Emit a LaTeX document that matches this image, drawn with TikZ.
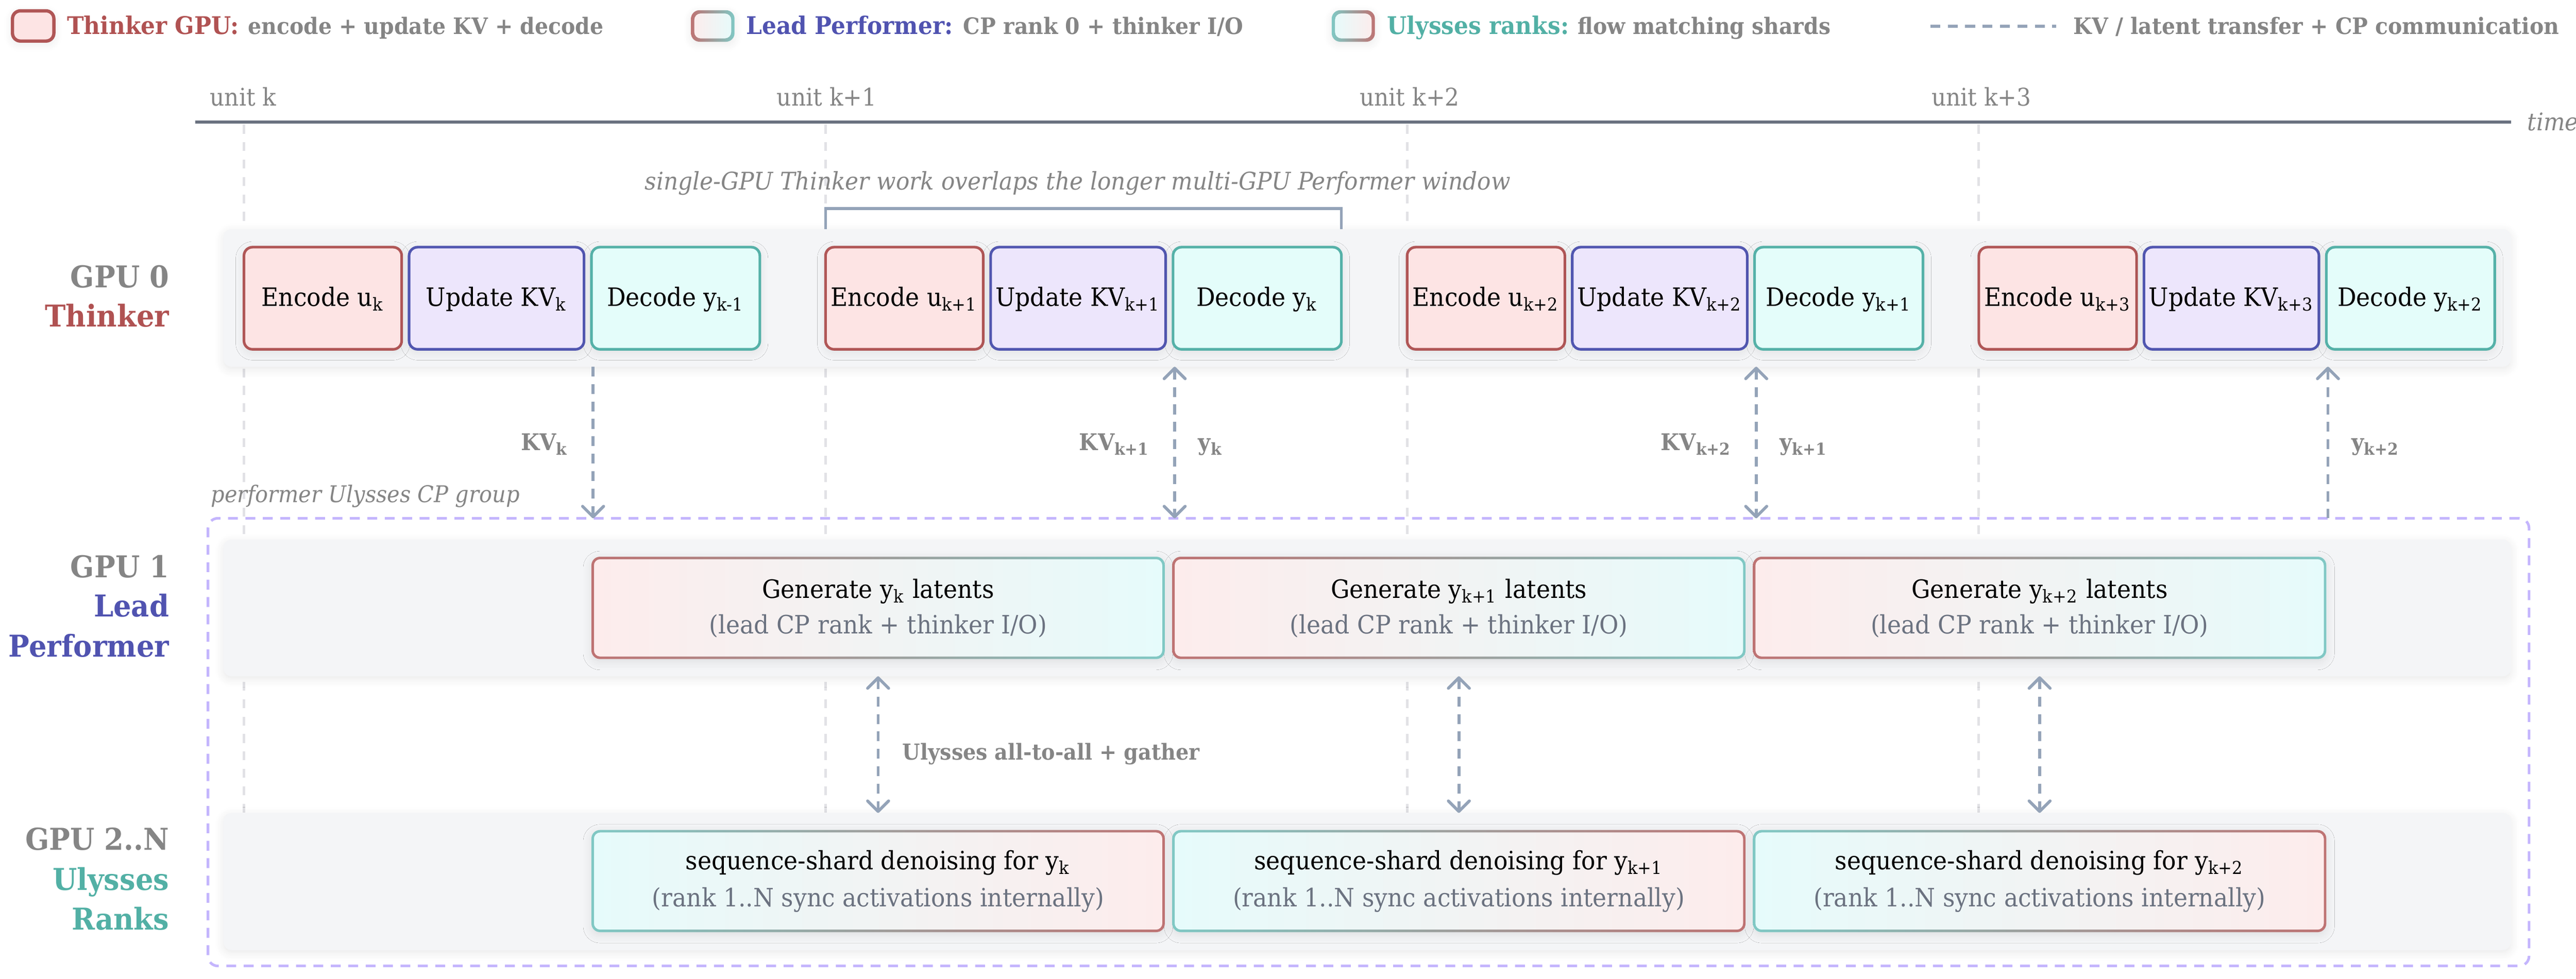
\documentclass[tikz,border=0pt]{standalone}
\usepackage{fontspec}
\setmainfont{DejaVu Serif}[FakeStretch=0.93]
\usetikzlibrary{arrows.meta,calc,shadows.blur}
\definecolor{redB}{HTML}{B05656}
\definecolor{redF}{HTML}{FDE4E4}
\definecolor{indB}{HTML}{5156B0}
\definecolor{indF}{HTML}{EDE6FC}
\definecolor{tealB}{HTML}{55B1A8}
\definecolor{tealF}{HTML}{E4FDFA}
\definecolor{gL}{HTML}{BE7373}
\definecolor{gM}{HTML}{7878C0}
\definecolor{gR}{HTML}{80C8C4}
\definecolor{pinkF}{HTML}{FDECEC}
\definecolor{lavF}{HTML}{EEE6FB}
\definecolor{cyanF}{HTML}{E6FBFB}
\definecolor{laneF}{HTML}{F4F5F7}
\definecolor{grayT}{HTML}{858585}
\definecolor{subC}{HTML}{6B7280}
\definecolor{axisC}{HTML}{6B7280}
\definecolor{commC}{HTML}{94A3B8}
\definecolor{gridC}{HTML}{E2E2E6}
\definecolor{grpC}{HTML}{C4B5FD}
\definecolor{thkC}{HTML}{B05252}
\definecolor{perC}{HTML}{5053B0}
\definecolor{ulyC}{HTML}{52B0A5}
\newcommand\mkbox[7]{%
  \pgfmathsetmacro\mkcx{(#2+#3)/2}%
  \pgfmathsetmacro\mkcy{(#4+#5)/2}%
  \pgfmathsetmacro\mkw{(#3-#2)*0.5}%
  \pgfmathsetmacro\mkh{(#5-#4)*0.5}%
  \node[#6, minimum width=\mkw pt, minimum height=\mkh pt] (#1) at (\mkcx,\mkcy) {#7};%
}
\newcommand\gring[5]{%
  \shade[left color=#2, middle color=#3, right color=#4, even odd rule, rounded corners=2.6pt]
    (#1.south west) rectangle (#1.north east)
    [rounded corners=1.9pt] ([shift={(#5,#5)}]#1.south west) rectangle ([shift={(-#5,-#5)}]#1.north east);%
}
\tikzset{
  cbarb/.tip={Straight Barb[length=3.2pt,width=6.4pt,round]},
  softsh/.style={blur shadow={shadow xshift=0pt, shadow yshift=-0.8pt, shadow blur radius=2.5pt, shadow blur steps=8, shadow opacity=9}},
  lane/.style={fill=laneF, draw=none, rounded corners=2.5pt, inner sep=0pt, outer sep=0pt, softsh},
  tb/.style={rounded corners=2.6pt, line width=0.8pt, inner sep=0pt, outer sep=0pt, softsh,
     font=\fontsize{7.7}{9}\selectfont, text height=6.2pt, text depth=1.3pt, text=black},
  enc/.style={tb, draw=redB, fill=redF},
  upd/.style={tb, draw=indB, fill=indF},
  dcd/.style={tb, draw=tealB, fill=tealF},
  gperf/.style={rounded corners=2.6pt, inner sep=0pt, outer sep=0pt, softsh, left color=pinkF, middle color=lavF, right color=cyanF},
  guly/.style={rounded corners=2.6pt, inner sep=0pt, outer sep=0pt, softsh, left color=cyanF, middle color=lavF, right color=pinkF},
  comm/.style={draw=commC, line width=0.9pt, dash pattern=on 3pt off 2.3pt},
  gridl/.style={draw=gridC, line width=0.8pt, dash pattern=on 2.7pt off 2.6pt},
  grp/.style={draw=grpC, line width=0.8pt, dash pattern=on 3pt off 2.3pt, rounded corners=3pt, inner sep=0pt, outer sep=0pt},
  bt1/.style={anchor=base, font=\fontsize{7.7}{9}\selectfont, text=black, inner sep=0pt},
  bt2/.style={anchor=base, font=\fontsize{7.7}{9}\selectfont, text=subC, inner sep=0pt},
  lanelab/.style={anchor=base east, font=\fontsize{9.15}{11}\selectfont\bfseries, inner sep=0pt},
  leglab/.style={anchor=base west, font=\fontsize{7.4}{9}\selectfont\bfseries, inner sep=0pt},
  legdesc/.style={anchor=base west, font=\fontsize{6.9}{9}\selectfont\bfseries, text=grayT, inner sep=0pt},
  unitlab/.style={anchor=base west, font=\fontsize{7.4}{9}\selectfont, text=grayT, inner sep=0pt},
  xlab/.style={font=\fontsize{7}{8.5}\selectfont\bfseries, text=grayT, inner sep=0pt},
  itl/.style={font=\fontsize{7.4}{9}\selectfont\itshape, text=grayT, inner sep=0pt},
}
\begin{document}
\begin{tikzpicture}[x=0.5pt,y=-0.5pt]
\useasboundingbox (0,0) rectangle (1568,596.14);

% ---------- legend ----------
\mkbox{sw1}{7.6}{32.8}{6.6}{25}{draw=redB, fill=redF, line width=1pt, rounded corners=2.4pt, inner sep=0pt, softsh}{}
\node[leglab, text=thkC] (lg1a) at (40.4,20.9) {Thinker GPU:};
\node[legdesc] (lg1b) at (150.6,20.9) {encode + update KV + decode};
\mkbox{sw2}{421}{446.7}{6.6}{25}{rounded corners=2.4pt, inner sep=0pt, softsh, left color=pinkF, middle color=lavF, right color=cyanF}{}
\gring{sw2}{gL}{gM}{gR}{1pt}
\node[leglab, text=perC] (lg2a) at (453.8,20.9) {Lead Performer:};
\node[legdesc] (lg2b) at (586,20.9) {CP rank 0 + thinker I/O};
\mkbox{sw3}{811}{836.5}{6.6}{25}{rounded corners=2.4pt, inner sep=0pt, softsh, left color=cyanF, middle color=lavF, right color=pinkF}{}
\gring{sw3}{gR}{gM}{gL}{1pt}
\node[leglab, text=ulyC] (lg3a) at (844,20.9) {Ulysses ranks:};
\node[legdesc] (lg3b) at (960,20.9) {flow matching shards};
\coordinate (lgA) at (1175,16);
\coordinate (lgB) at (1251.5,16);
\draw[comm] (lgA) -- (lgB);
\node[legdesc] (lg4) at (1261.7,20.9) {KV / latent transfer + CP communication};

% ---------- time axis ----------
\coordinate (axL) at (118.8,74.2);
\coordinate (axR) at (1528.4,74.2);
\draw[draw=axisC, line width=0.9pt] (axL) -- (axR);
\node[anchor=base west, font=\fontsize{7.4}{9}\selectfont\itshape, text=grayT, inner sep=0pt] (time) at (1538,79.4) {time};
\node[unitlab] (u0) at (127.4,64.3) {unit k};
\node[unitlab] (u1) at (472.5,64.3) {unit k+1};
\node[unitlab] (u2) at (827.3,64.3) {unit k+2};
\node[unitlab] (u3) at (1175.3,64.3) {unit k+3};

% ---------- grid lines ----------
\foreach \gx [count=\gi] in {148.5,502.5,856.5,1204.5}{
  \coordinate (gt\gi) at (\gx,76);
  \coordinate (gb\gi) at (\gx,578);
  \draw[gridl] (gt\gi) -- (gb\gi);
}

% ---------- group ----------
\mkbox{grp}{126.6}{1539.4}{315.6}{588.2}{grp}{}
\node[itl, anchor=base west, font=\fontsize{7}{9}\selectfont\itshape] (grplab) at (128,306) {performer Ulysses CP group};

% ---------- lanes ----------
\mkbox{thk}{136}{1528.4}{139.5}{223.3}{lane}{}
\mkbox{prf}{136}{1528.4}{328.6}{411.8}{lane}{}
\mkbox{uly}{136}{1528.4}{495}{578.5}{lane}{}

% lane labels
\node[lanelab, text=grayT] (l0a) at (103.3,175.2) {GPU 0};
\node[lanelab, text=thkC] (l0b) at (103.3,199.1) {Thinker};
\node[lanelab, text=grayT] (l1a) at (103.3,351.6) {GPU 1};
\node[lanelab, text=perC] (l1b) at (103.3,375.6) {Lead};
\node[lanelab, text=perC] (l1c) at (103.3,400) {Performer};
\node[lanelab, text=grayT] (l2a) at (103.3,517.5) {GPU 2..N};
\node[lanelab, text=ulyC] (l2b) at (103.3,542) {Ulysses};
\node[lanelab, text=ulyC] (l2c) at (103.3,566.3) {Ranks};

% ---------- thinker boxes ----------
\mkbox{e1}{148.5}{244.5}{150.5}{212.7}{enc}{Encode u\textsubscript{k}}
\mkbox{u1}{249}{355.5}{150.5}{212.7}{upd}{Update KV\textsubscript{k}}
\mkbox{d1}{360}{462.5}{150.5}{212.7}{dcd}{Decode y\textsubscript{k-1}}
\mkbox{e2}{502.5}{598.5}{150.5}{212.7}{enc}{Encode u\textsubscript{k+1}}
\mkbox{u2}{603}{709.5}{150.5}{212.7}{upd}{Update KV\textsubscript{k+1}}
\mkbox{d2}{714}{816.5}{150.5}{212.7}{dcd}{Decode y\textsubscript{k}}
\mkbox{e3}{856.5}{952.5}{150.5}{212.7}{enc}{Encode u\textsubscript{k+2}}
\mkbox{u3}{957}{1063.5}{150.5}{212.7}{upd}{Update KV\textsubscript{k+2}}
\mkbox{d3}{1068}{1170.5}{150.5}{212.7}{dcd}{Decode y\textsubscript{k+1}}
\mkbox{e4}{1204.5}{1300.5}{150.5}{212.7}{enc}{Encode u\textsubscript{k+3}}
\mkbox{u4}{1305}{1411.5}{150.5}{212.7}{upd}{Update KV\textsubscript{k+3}}
\mkbox{d4}{1416}{1518.5}{150.5}{212.7}{dcd}{Decode y\textsubscript{k+2}}

% bracket + annotation
\draw[draw=commC, line width=0.8pt] (e2.west |- thk.north) -- ++(0,-12.5) -| (d2.east |- thk.north);
\node[itl, anchor=base] (ann) at (656,115.4) {single-GPU Thinker work overlaps the longer multi-GPU Performer window};

% ---------- performer boxes ----------
\mkbox{p1}{360}{709}{339}{401.3}{gperf}{}
\mkbox{p2}{713.5}{1062.5}{339}{401.3}{gperf}{}
\mkbox{p3}{1067}{1416}{339}{401.3}{gperf}{}
\gring{p1}{gL}{gM}{gR}{0.75pt}
\gring{p2}{gL}{gM}{gR}{0.75pt}
\gring{p3}{gL}{gM}{gR}{0.75pt}
\node[bt1] (p1a) at (p1.center |- 0,364.3) {Generate y\textsubscript{k} latents};
\node[bt2] (p1b) at (p1.center |- 0,386) {(lead CP rank + thinker I/O)};
\node[bt1] (p2a) at (p2.center |- 0,364.3) {Generate y\textsubscript{k+1} latents};
\node[bt2] (p2b) at (p2.center |- 0,386) {(lead CP rank + thinker I/O)};
\node[bt1] (p3a) at (p3.center |- 0,364.3) {Generate y\textsubscript{k+2} latents};
\node[bt2] (p3b) at (p3.center |- 0,386) {(lead CP rank + thinker I/O)};

% ---------- ulysses boxes ----------
\mkbox{s1}{360}{709}{505.4}{567.6}{guly}{}
\mkbox{s2}{713.5}{1062.5}{505.4}{567.6}{guly}{}
\mkbox{s3}{1067}{1416}{505.4}{567.6}{guly}{}
\gring{s1}{gR}{gM}{gL}{0.75pt}
\gring{s2}{gR}{gM}{gL}{0.75pt}
\gring{s3}{gR}{gM}{gL}{0.75pt}
\node[bt1] (s1a) at (s1.center |- 0,529.6) {sequence-shard denoising for y\textsubscript{k}};
\node[bt2] (s1b) at (s1.center |- 0,552) {(rank 1..N sync activations internally)};
\node[bt1] (s2a) at (s2.center |- 0,529.6) {sequence-shard denoising for y\textsubscript{k+1}};
\node[bt2] (s2b) at (s2.center |- 0,552) {(rank 1..N sync activations internally)};
\node[bt1] (s3a) at (s3.center |- 0,529.6) {sequence-shard denoising for y\textsubscript{k+2}};
\node[bt2] (s3b) at (s3.center |- 0,552) {(rank 1..N sync activations internally)};

% ---------- thinker <-> performer transfers ----------
\draw[comm, -cbarb] ([xshift=0.5pt]d1.west |- thk.south) -- ([xshift=0.5pt]d1.west |- grp.north);
\draw[comm, cbarb-cbarb] ([xshift=0.5pt]d2.west |- thk.south) -- ([xshift=0.5pt]d2.west |- grp.north);
\draw[comm, cbarb-cbarb] ([xshift=0.5pt]d3.west |- thk.south) -- ([xshift=0.5pt]d3.west |- grp.north);
\draw[comm, cbarb-] ([xshift=0.5pt]d4.west |- thk.south) -- ([xshift=0.5pt]d4.west |- grp.north);
\node[xlab, anchor=base east] (t1) at (346.5,274.3) {KV\textsubscript{k}};
\node[xlab, anchor=base east] (t2) at (700.5,274.3) {KV\textsubscript{k+1}};
\node[xlab, anchor=base west] (t3) at (729,274.3) {y\textsubscript{k}};
\node[xlab, anchor=base east] (t4) at (1054.5,274.3) {KV\textsubscript{k+2}};
\node[xlab, anchor=base west] (t5) at (1083,274.3) {y\textsubscript{k+1}};
\node[xlab, anchor=base west] (t6) at (1431,274.3) {y\textsubscript{k+2}};

% ---------- Ulysses all-to-all ----------
\draw[comm, cbarb-cbarb] (p1.center |- prf.south) -- (p1.center |- uly.north);
\draw[comm, cbarb-cbarb] (p2.center |- prf.south) -- (p2.center |- uly.north);
\draw[comm, cbarb-cbarb] (p3.center |- prf.south) -- (p3.center |- uly.north);
\node[anchor=base west, font=\fontsize{6.7}{9}\selectfont\bfseries, text=grayT, inner sep=0pt] (ulab) at (549,462.7) {Ulysses all-to-all + gather};
\end{tikzpicture}
\end{document}
